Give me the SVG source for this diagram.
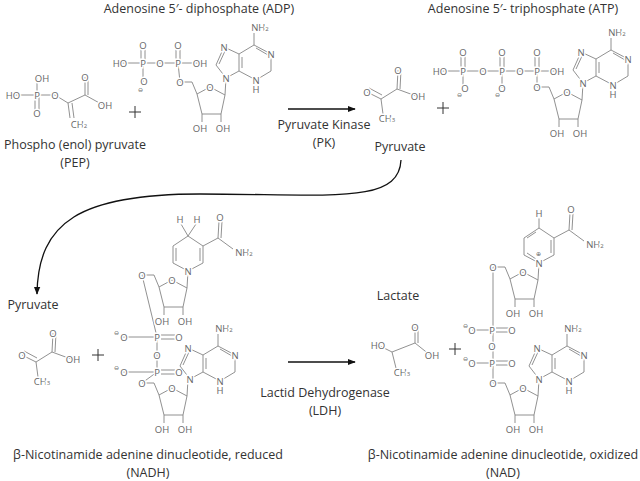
<svg xmlns="http://www.w3.org/2000/svg" xmlns:xlink="http://www.w3.org/1999/xlink" width="640" height="481" viewBox="0 0 640 481">
<style>
.b{fill:none;stroke:#858585;stroke-width:0.9}
.a{font-family:"Open Sans",sans-serif;font-size:9.5px;fill:#666;text-anchor:middle;dominant-baseline:central;stroke:#fff;stroke-width:3;paint-order:stroke}
.c{font-family:"Open Sans",sans-serif;font-size:6px;fill:#666;text-anchor:middle;dominant-baseline:central}
.t{font-family:"Open Sans",sans-serif;font-size:12.5px;fill:#333;text-anchor:middle}
.ar{fill:none;stroke:#111;stroke-width:1.3}
</style>
<defs>
<marker id="ah" viewBox="0 0 10 10" refX="9" refY="5" markerWidth="8" markerHeight="8" orient="auto" markerUnits="userSpaceOnUse"><path d="M0,1L10,5L0,9Z" fill="#111"/></marker>
<g id="rib">
<path class="b" d="M0,0H12L17,12 M17,12L30,5L45,13L41,32H22Z M22,32V40M41,32V40M45,13L46,-4"/>
<text class="a" x="0" y="0">O</text><text class="a" x="30" y="5">O</text>
<text class="a" x="20" y="46">OH</text><text class="a" x="43" y="46">OH</text>
</g>
<g id="ade">
<path class="b" d="M0,0L-10,-13L-2,-31L13,-24L13,-7Z M13,-24L28,-33L45,-24L45,-7L30,2L13,-7 M28,-33V-45 M-7,-14L-1,-27 M16,-21V-10 M30,-30L42,-23"/>
<text class="a" x="0" y="0">N</text><text class="a" x="-2" y="-31">N</text><text class="a" x="45" y="-24">N</text><text class="a" x="30" y="2">N</text><text class="a" x="30" y="11">H</text>
<text class="a" x="34" y="-51">NH<tspan font-size="6" dy="2">2</tspan></text>
</g>
<g id="nicR">
<path class="b" d="M0,0L15,-8V-25L0,-35L-15,-25V-8Z M12,-10V-23 M-12,-10V-23 M0,-35L-7,-47M0,-35L8,-47 M15,-25L30,-33L31,-50 M33,-33L34,-50 M30,-33L45,-22"/>
<text class="a" x="0" y="0">N</text><text class="a" x="-8" y="-52">H</text><text class="a" x="9" y="-52">H</text><text class="a" x="32" y="-54">O</text>
<text class="a" x="56" y="-19">NH<tspan font-size="6" dy="2">2</tspan></text>
</g>
<g id="nicO">
<path class="b" d="M0,0L15,-8V-25L0,-35L-15,-25V-8Z M12,-10V-23 M-3,-31L-12,-25 M-12,-10L-3,-4 M0,-35V-45 M15,-25L30,-33L31,-50 M33,-33L34,-50 M30,-33L45,-22"/>
<text class="a" x="0" y="0">N</text><text class="c" x="-1" y="-9">⊕</text><text class="a" x="0" y="-50">H</text><text class="a" x="32" y="-54">O</text>
<text class="a" x="56" y="-19">NH<tspan font-size="6" dy="2">2</tspan></text>
</g>
<g id="pyr">
<path class="b" d="M0,0L14,7L30,-3L31,-22 M33,-3L34,-22 M30,-3L49,4 M14,7L16,22 M2,-4L15,3"/>
<text class="a" x="0" y="0">O</text><text class="a" x="31" y="-22">O</text><text class="a" x="51" y="4">OH</text>
<text class="a" x="20" y="26">CH<tspan font-size="6" dy="2">3</tspan></text>
</g>
</defs>

<g id="pep">
<path class="b" d="M13,95H55L68,103L85,95L85,77 M88,95L88,77 M85,95L103,105 M68,103L70,118 M72,103L74,118 M37,95V78 M35,95V112 M39,95V112"/>
<text class="a" x="42" y="78">OH</text><text class="a" x="13" y="95">HO</text><text class="a" x="37" y="95">P</text><text class="a" x="55" y="95">O</text><text class="a" x="37" y="113">O</text><text class="a" x="85" y="77">O</text><text class="a" x="105" y="105">OH</text>
<text class="a" x="79" y="124">CH<tspan font-size="6" dy="2">2</tspan></text>
<text class="t" x="75" y="149">Phospho (enol) pyruvate</text><text class="t" x="75" y="167">(PEP)</text>
</g>
<g id="adp">
<path class="b" d="M120,63H200 M178,63L180,82 M141,63V45 M145,63V45 M176,63V45 M180,63V45 M143,63V82"/>
<text class="a" x="120" y="63">HO</text><text class="a" x="143" y="63">P</text><text class="a" x="160" y="63">O</text><text class="a" x="178" y="63">P</text><text class="a" x="200" y="63">OH</text>
<text class="a" x="143" y="45">O</text><text class="a" x="178" y="45">O</text><text class="a" x="144" y="81">O</text><text class="c" x="140" y="90">⊖</text>
<use xlink:href="#rib" x="180" y="82"/><use xlink:href="#ade" x="226" y="78"/>
<text class="t" x="199" y="13">Adenosine 5′- diphosphate (ADP)</text>
</g>
<g id="pyr1"><use xlink:href="#pyr" x="367" y="92"/><text class="t" x="400" y="151">Pyruvate</text></g>
<g id="atp">
<path class="b" d="M440,71H557 M537,71V87 M461,71V52 M465,71V52 M500,71V52 M504,71V52 M535,71V52 M539,71V52 M463,71V88 M502,71V88"/>
<text class="a" x="440" y="71">HO</text><text class="a" x="463" y="71">P</text><text class="a" x="483" y="71">O</text><text class="a" x="502" y="71">P</text><text class="a" x="520" y="71">O</text><text class="a" x="537" y="71">P</text><text class="a" x="557" y="71">OH</text>
<text class="a" x="463" y="52">O</text><text class="a" x="502" y="52">O</text><text class="a" x="537" y="52">O</text>
<text class="a" x="465" y="88">O</text><text class="c" x="459" y="95">⊖</text><text class="a" x="502" y="88">O</text><text class="c" x="497" y="95">⊖</text>
<use xlink:href="#rib" x="537" y="87"/><use xlink:href="#ade" x="583" y="83"/>
<text class="t" x="523" y="13">Adenosine 5′- triphosphate (ATP)</text>
</g>
<g id="pyr2"><text class="t" x="33" y="309">Pyruvate</text><use xlink:href="#pyr" x="22" y="355"/></g>
<g id="nadh">
<path class="b" d="M142,275L157,337V372L142,383 M122,337H157 M122,372H157 M161,335H175M161,339H175 M161,370H175M161,374H175"/>
<text class="a" x="124" y="337">O</text><text class="c" x="116" y="333">⊖</text><text class="a" x="157" y="337">P</text><text class="a" x="179" y="337">O</text>
<text class="a" x="157" y="355">O</text>
<text class="a" x="124" y="372">O</text><text class="c" x="116" y="368">⊖</text><text class="a" x="157" y="372">P</text><text class="a" x="179" y="372">O</text>
<use xlink:href="#rib" x="142" y="275"/><use xlink:href="#nicR" x="188" y="271"/>
<use xlink:href="#rib" x="142" y="383"/><use xlink:href="#ade" x="190" y="379"/>
<text class="t" x="148" y="459">β-Nicotinamide adenine dinucleotide, reduced</text><text class="t" x="148" y="477">(NADH)</text>
</g>
<g id="lac">
<text class="t" x="398" y="300">Lactate</text>
<path class="b" d="M378,345L392,352L415,343L415,327 M418,343L418,327 M415,343L430,355 M392,352L396,368"/>
<text class="a" x="378" y="345">HO</text><text class="a" x="415" y="327">O</text><text class="a" x="432" y="355">OH</text>
<text class="a" x="402" y="372">CH<tspan font-size="6" dy="2">3</tspan></text>
</g>
<g id="nad">
<path class="b" d="M493,267V383 M472,330H492 M472,363H492 M496,328H510M496,332H510 M496,361H510M496,365H510"/>
<text class="a" x="472" y="330">O</text><text class="c" x="465" y="326">⊖</text><text class="a" x="492" y="330">P</text><text class="a" x="512" y="330">O</text>
<text class="a" x="492" y="346">O</text>
<text class="a" x="472" y="363">O</text><text class="c" x="465" y="359">⊖</text><text class="a" x="492" y="363">P</text><text class="a" x="512" y="363">O</text>
<use xlink:href="#rib" x="493" y="267"/><use xlink:href="#nicO" x="539" y="263"/>
<use xlink:href="#rib" x="493" y="383"/><use xlink:href="#ade" x="539" y="379"/>
<text class="t" x="503" y="459">β-Nicotinamide adenine dinucleotide, oxidized</text><text class="t" x="503" y="477">(NAD)</text>
</g>
<g id="plus" stroke="#333" stroke-width="1">
<path d="M129,112H141M135,106V118 M437,108H449M443,102V114 M92,355H104M98,349V361 M449,349H461M455,343V355"/>
</g>
<g id="connectors">
<path class="ar" d="M288,109H355" marker-end="url(#ah)"/>
<path class="ar" d="M288,362H355" marker-end="url(#ah)"/>
<path class="ar" d="M401,160C399,205 330,194 200,194C80,194 38,222 37,294" marker-end="url(#ah)"/>
<text class="t" x="324" y="129">Pyruvate Kinase</text><text class="t" x="324" y="147">(PK)</text>
<text class="t" x="325" y="397">Lactid Dehydrogenase</text><text class="t" x="325" y="415">(LDH)</text>
</g>
</svg>
